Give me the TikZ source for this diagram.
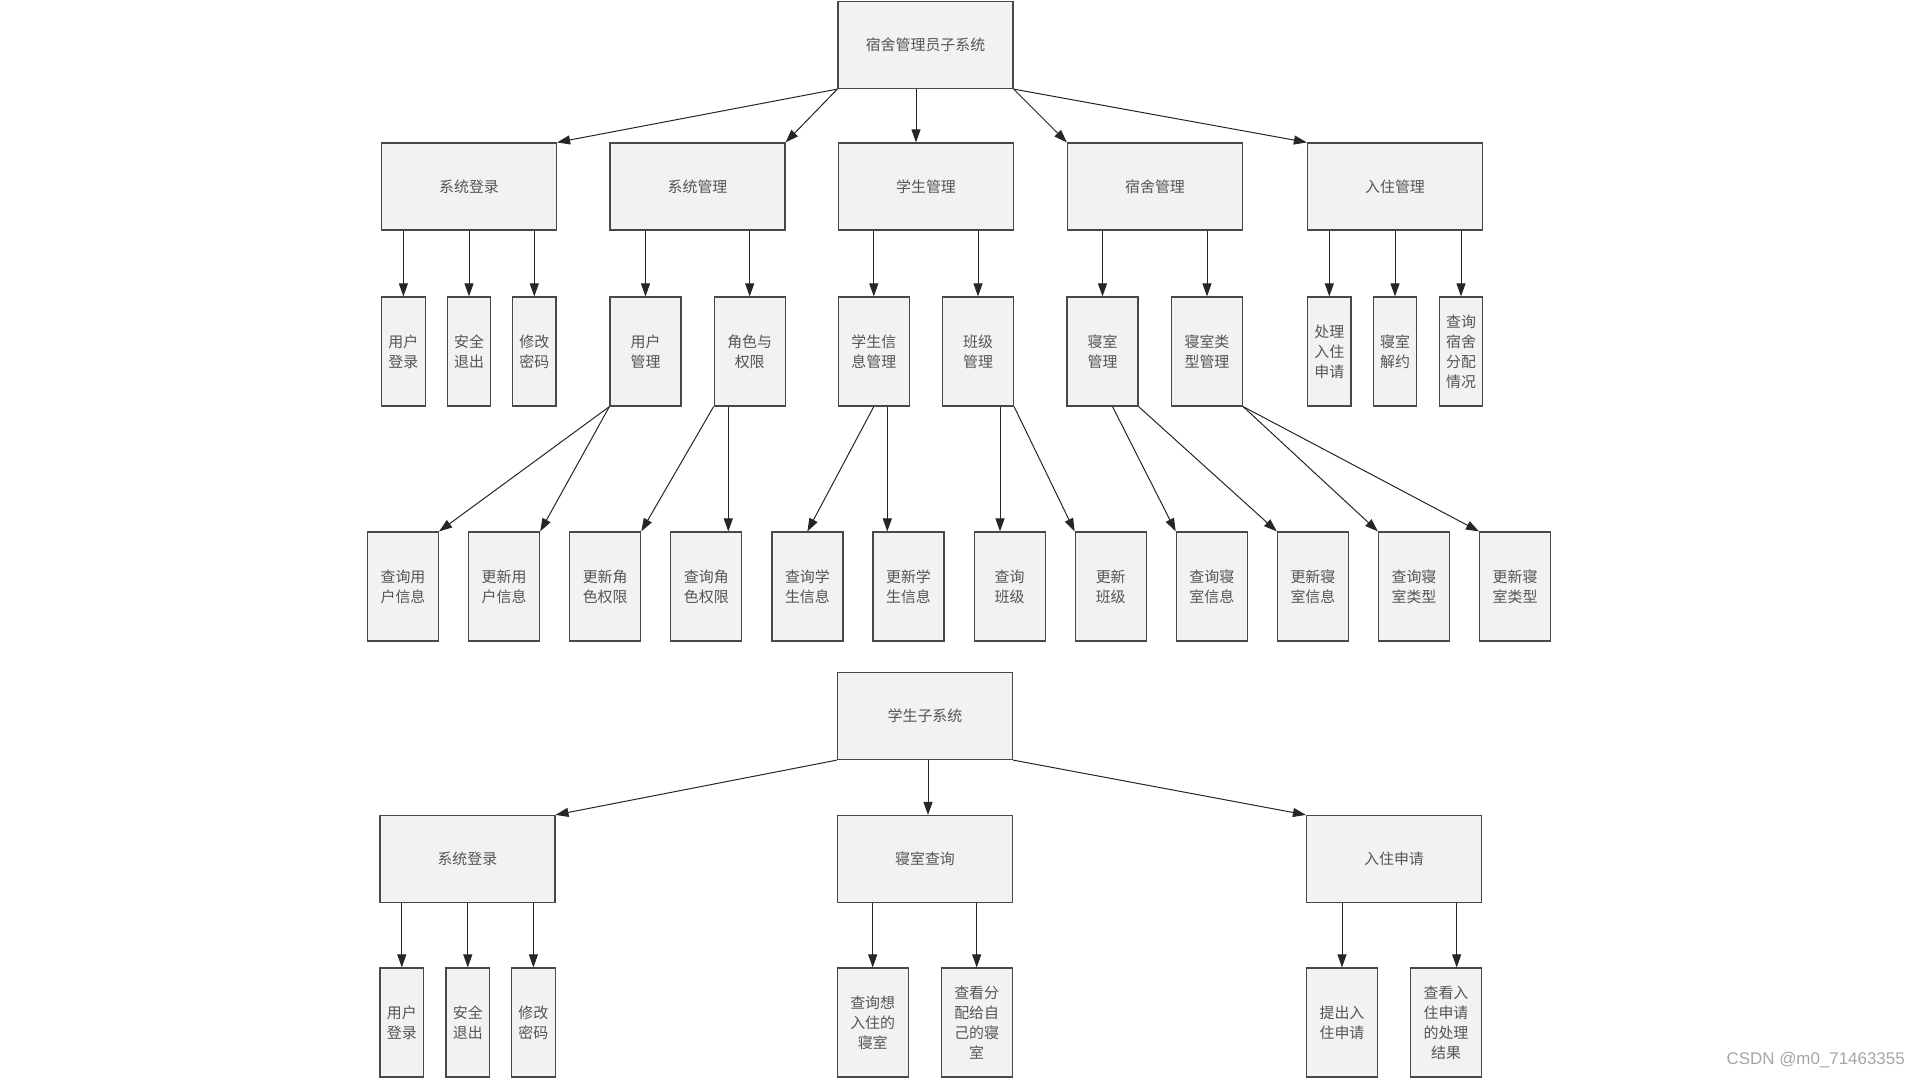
\documentclass[tikz,border=0pt]{standalone}
\usepackage{fontspec}
\newfontfamily\cjk{Noto Sans CJK SC}
\newfontfamily\wmfont{Liberation Sans}
\usetikzlibrary{arrows.meta}
\definecolor{boxfill}{HTML}{F2F2F2}
\definecolor{boxline}{HTML}{484848}
\definecolor{boxtext}{HTML}{555555}
\tikzset{
  box/.style={draw=boxline, fill=boxfill, line width=0.9pt, inner sep=0pt, align=center,
    text=boxtext, font=\cjk\fontsize{11.2}{15}\selectfont},
  wide/.style={box, minimum width=131.25pt, minimum height=65.25pt},
  slim/.style={box, minimum width=32.6pt, minimum height=81.75pt},
  mid/.style={box, minimum width=53.25pt, minimum height=81.75pt},
  arr/.style={-{Triangle[length=9.75pt,width=6.75pt]}, line width=0.75pt, draw=black!85},
}
\begin{document}
\begin{tikzpicture}[x=0.75pt, y=-0.75pt]
				\fill[white] (0,0) rectangle (1920,1080);
				\useasboundingbox (0,0) rectangle (1920,1080);

				% Dormitory administrator subsystem
				\node[wide] (root) at (925.5,45) {宿舍管理员子系统};
				\node[wide] (dl) at (469,186.5) {系统登录};
				\node[wide] (sm) at (697.5,186.5) {系统管理};
				\node[wide] (st) at (926,186.5) {学生管理};
				\node[wide] (dm) at (1155,186.5) {宿舍管理};
				\node[wide] (cm) at (1395,186.5) {入住管理};

				\node[slim] (ul) at (403.4,351.5) {用户\\登录};
				\node[slim] (sq) at (469,351.5) {安全\\退出};
				\node[slim] (pw) at (534.3,351.5) {修改\\密码};
				\node[mid] (um) at (645.5,351.5) {用户\\管理};
				\node[mid] (role) at (749.7,351.5) {角色与\\权限};
				\node[mid] (si) at (873.8,351.5) {学生信\\息管理};
				\node[mid] (cl) at (978,351.5) {班级\\管理};
				\node[mid] (rm) at (1102.5,351.5) {寝室\\管理};
				\node[mid] (rt) at (1207,351.5) {寝室类\\型管理};
				\node[slim] (ha) at (1329.3,351.5) {处理\\入住\\申请};
				\node[slim] (tc) at (1395,351.5) {寝室\\解约};
				\node[slim] (qa) at (1461,351.5) {查询\\宿舍\\分配\\情况};

				\node[mid] (qu) at (403,586.5) {查询用\\户信息};
				\node[mid] (uu) at (504.1,586.5) {更新用\\户信息};
				\node[mid] (ur) at (605.2,586.5) {更新角\\色权限};
				\node[mid] (qr) at (706.3,586.5) {查询角\\色权限};
				\node[mid] (qs) at (807.4,586.5) {查询学\\生信息};
				\node[mid] (us) at (908.5,586.5) {更新学\\生信息};
				\node[mid] (qc) at (1009.6,586.5) {查询\\班级};
				\node[mid] (uc) at (1110.7,586.5) {更新\\班级};
				\node[mid] (qd) at (1211.8,586.5) {查询寝\\室信息};
				\node[mid] (ud) at (1312.9,586.5) {更新寝\\室信息};
				\node[mid] (qt) at (1414,586.5) {查询寝\\室类型};
				\node[mid] (ut) at (1515.1,586.5) {更新寝\\室类型};

				\draw[arr] (root.south west) -- (dl.north east);
				\draw[arr] (root.south west) -- (sm.north east);
				\coordinate (t1) at ([xshift=-7.5pt]st.north);
				\draw[arr] (t1 |- root.south) -- (t1);
				\draw[arr] (root.south east) -- (dm.north west);
				\draw[arr] (root.south east) -- (cm.north west);

				\draw[arr] (dl.south -| ul.north) -- (ul.north);
				\draw[arr] (dl.south -| sq.north) -- (sq.north);
				\draw[arr] (dl.south -| pw.north) -- (pw.north);
				\draw[arr] (sm.south -| um.north) -- (um.north);
				\draw[arr] (sm.south -| role.north) -- (role.north);
				\draw[arr] (st.south -| si.north) -- (si.north);
				\draw[arr] (st.south -| cl.north) -- (cl.north);
				\draw[arr] (dm.south -| rm.north) -- (rm.north);
				\draw[arr] (dm.south -| rt.north) -- (rt.north);
				\draw[arr] (cm.south -| ha.north) -- (ha.north);
				\draw[arr] (cm.south -| tc.north) -- (tc.north);
				\draw[arr] (cm.south -| qa.north) -- (qa.north);

				\draw[arr] (um.south west) -- (qu.north east);
				\draw[arr] (um.south west) -- (uu.north east);
				\draw[arr] (role.south west) -- (ur.north east);
				\coordinate (t2) at ([xshift=16.5pt]qr.north);
				\draw[arr] (t2 |- role.south) -- (t2);
				\draw[arr] (si.south) -- (qs.north);
				\coordinate (t3) at ([xshift=-15.9pt]us.north);
				\draw[arr] (t3 |- si.south) -- (t3);
				\coordinate (t4) at ([xshift=-7.2pt]qc.north);
				\draw[arr] (t4 |- cl.south) -- (t4);
				\draw[arr] (cl.south east) -- (uc.north west);
				\draw[arr] ([xshift=7.5pt]rm.south) -- (qd.north west);
				\draw[arr] (rm.south east) -- (ud.north west);
				\draw[arr] (rt.south east) -- (qt.north west);
				\draw[arr] (rt.south east) -- (ut.north west);

				% Student subsystem
				\node[wide] (sroot) at (925,716) {学生子系统};
				\node[wide] (sdl) at (467.4,859) {系统登录};
				\node[wide] (rq) at (925,859) {寝室查询};
				\node[wide] (ap) at (1394,859) {入住申请};

				\node[slim] (sul) at (401.8,1022.5) {用户\\登录};
				\node[slim] (ssq) at (467.8,1022.5) {安全\\退出};
				\node[slim] (spw) at (533.4,1022.5) {修改\\密码};
				\node[mid] (qw) at (872.7,1022.5) {查询想\\入住的\\寝室};
				\node[mid] (qm) at (976.7,1022.5) {查看分\\配给自\\己的寝\\室};
				\node[mid] (sa) at (1342,1022.5) {提出入\\住申请};
				\node[mid] (va) at (1446,1022.5) {查看入\\住申请\\的处理\\结果};

				\draw[arr] (sroot.south west) -- (sdl.north east);
				\coordinate (t5) at ([xshift=2.25pt]rq.north);
				\draw[arr] (t5 |- sroot.south) -- (t5);
				\draw[arr] (sroot.south east) -- (ap.north west);

				\draw[arr] (sdl.south -| sul.north) -- (sul.north);
				\draw[arr] (sdl.south -| ssq.north) -- (ssq.north);
				\draw[arr] (sdl.south -| spw.north) -- (spw.north);
				\draw[arr] (rq.south -| qw.north) -- (qw.north);
				\draw[arr] (rq.south -| qm.north) -- (qm.north);
				\draw[arr] (ap.south -| sa.north) -- (sa.north);
				\coordinate (t6) at ([xshift=8pt]va.north);
				\draw[arr] (t6 |- ap.south) -- (t6);

				% Watermark
				\node[anchor=east, text=black!35, font=\wmfont\fontsize{12.7}{14}\selectfont, inner sep=0pt] (wm) at (1905,1060) {CSDN @m0\_71463355};
			\end{tikzpicture}
\end{document}
